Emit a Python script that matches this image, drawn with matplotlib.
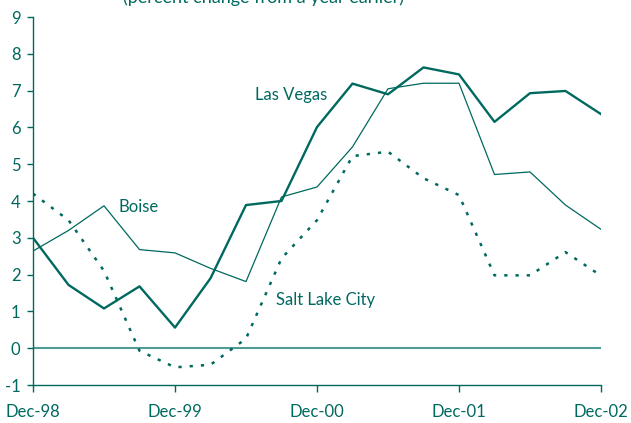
import matplotlib.pyplot as plt

# quarterly, Dec-98 .. Dec-02
quarters = list(range(17))
las_vegas = [3.0, 1.72, 1.08, 1.68, 0.56, 1.9, 3.89, 4.0, 6.01, 7.19, 6.9, 7.63, 7.44, 6.15, 6.93, 6.99, 6.36]
boise = [2.64, 3.2, 3.87, 2.68, 2.59, 2.17, 1.81, 4.11, 4.38, 5.47, 7.05, 7.2, 7.2, 4.72, 4.79, 3.89, 3.23]
salt_lake = [4.2, 3.48, 2.1, -0.07, -0.52, -0.45, 0.26, 2.44, 3.48, 5.22, 5.34, 4.62, 4.16, 1.98, 1.98, 2.61, 1.97]
tick_pos = [0, 4, 8, 12, 16]
tick_labels = ['Dec-98', 'Dec-99', 'Dec-00', 'Dec-01', 'Dec-02']

teal = '#00695f'
light = '#4f9c96'

plt.rcParams['font.family'] = ['Lato', 'DejaVu Sans']
plt.rcParams['axes.unicode_minus'] = False

fig = plt.figure(figsize=(6.31, 4.23), dpi=100)
ax = fig.add_axes([33/631, 1-385/423, 568/631, 368/423])

## lines
ax.axhline(0, color=light, lw=1.5, zorder=1)
ax.plot(quarters, las_vegas, color=teal, lw=1.7)
ax.plot(quarters, boise, color=teal, lw=0.9)
ax.plot(quarters, salt_lake, color=teal, lw=1.8, linestyle=(0, (1.3, 3.2)))

## labels on lines
ax.text(6.25, 6.88, 'Las Vegas', color=teal, fontsize=12, va='center')
ax.text(2.4, 3.85, 'Boise', color=teal, fontsize=12, va='center')
ax.text(6.85, 1.3, 'Salt Lake City', color=teal, fontsize=12, va='center')

## title (cut off at top, as in the source)
fig.text(0.418, 1.006, '(percent change from a year earlier)', color=teal,
         fontsize=13, ha='center', va='center')

ax.set_xlim(0, 16)
ax.set_ylim(-1, 9)
ax.set_yticks(range(-1, 10))
ax.set_xticks(tick_pos, tick_labels)

for s in ['top', 'right']:
    ax.spines[s].set_visible(False)
for s in ['left', 'bottom']:
    ax.spines[s].set_color(teal)
    ax.spines[s].set_linewidth(1.0)
ax.tick_params(axis='both', colors=teal, labelcolor=teal, labelsize=12, width=1.0)
ax.tick_params(axis='y', length=4, pad=5)
ax.tick_params(axis='x', length=5, pad=9)

plt.savefig('out.png', dpi=100)
